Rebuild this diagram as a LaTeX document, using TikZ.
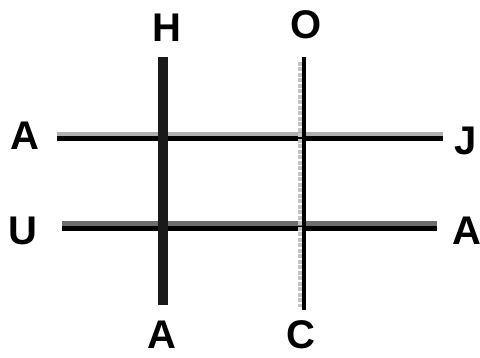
\documentclass[tikz,border=0pt]{standalone}
\usepackage{fontspec}
\setmainfont{Liberation Sans}
\usetikzlibrary{positioning}
\definecolor{ink}{HTML}{1A1A1A}
\definecolor{shade}{HTML}{B0B0B0}
\definecolor{shadedark}{HTML}{6E6E6E}
\definecolor{dotgray}{HTML}{C4C4C4}

\begin{document}
\begin{tikzpicture}[x=1pt,y=-1pt,
      letter/.style={inner sep=0pt,font=\fontsize{40}{40}\selectfont\bfseries},
      thick line/.style={draw=ink,line width=10pt},
      thin line/.style={draw=black,line width=4.5pt},
      top edge/.style={line width=4.5pt},
      bottom edge/.style={draw=black,line width=5pt}]
    \useasboundingbox[fill=white] (0,0) rectangle (480,358);
    \node[letter] (H) at (167,28) {H};
    \node[letter] (O) at (306,25) {O};
    \node[letter] (Aw) at (25,136) {A};
    \node[letter] (J) at (466,141) {J};
    \node[letter] (U) at (23,231) {U};
    \node[letter] (Ae) at (467,231) {A};
    \node[letter] (As) at (162,335) {A};
    \node[letter] (C) at (301,335) {C};
    % line ends
    \coordinate (h1w) at (57,136.5);  \coordinate (h1e) at (443,136.5);
    \coordinate (h2w) at (62,226);    \coordinate (h2e) at (437,226);
    \coordinate (v1n) at (163,57);    \coordinate (v1s) at (163,305);
    \coordinate (v2n) at (304,57);    \coordinate (v2s) at (304,310);
    \draw[top edge,draw=shade] ([yshift=2.5pt]h1w) -- ([yshift=2.5pt]h1e);
    \draw[bottom edge] ([yshift=-2.5pt]h1w) -- ([yshift=-2.5pt]h1e);
    \draw[top edge,draw=shadedark] ([yshift=2.5pt]h2w) -- ([yshift=2.5pt]h2e);
    \draw[bottom edge] ([yshift=-2.5pt]h2w) -- ([yshift=-2.5pt]h2e);
    \draw[thick line] (v1n) -- (v1s);
    \draw[dotgray,line width=4pt,dash pattern=on 4pt off 1.5pt] ([xshift=-4.5pt,yshift=-5pt]v2n) -- ([xshift=-4.5pt,yshift=3pt]v2s);
    \draw[thin line] (v2n) -- (v2s);
\end{tikzpicture}
\end{document}
